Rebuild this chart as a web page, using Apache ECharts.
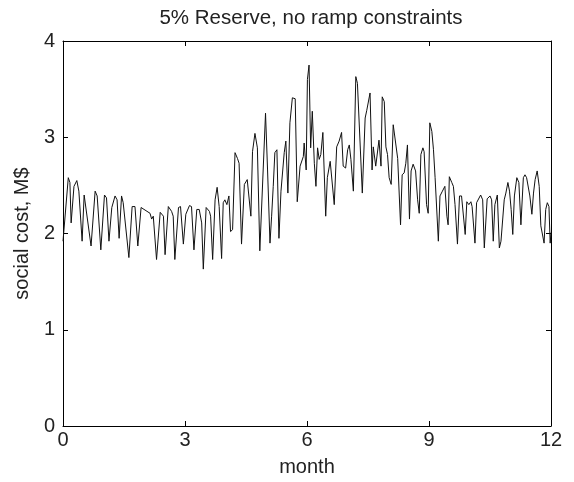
<!DOCTYPE html>
<html><head><meta charset="utf-8">
<script src="https://cdn.jsdelivr.net/npm/echarts@6/dist/echarts.min.js"></script>
<style>html,body{margin:0;padding:0;background:#fff}#c{width:574px;height:482px}</style>
</head><body><div id="c"></div>
<script>
var titleText = '5% Reserve, no ramp constraints';
var xName = 'month';
var yName = 'social cost, M$';
var xTicks = [0, 3, 6, 9, 12];
var yTicks = [0, 1, 2, 3, 4];
// month positions of the traced vertices
var months = [
0.00,0.13,0.17,0.20,0.27,0.34,0.39,0.47,0.52,0.69,0.79,0.84,0.93,1.02,1.07,1.13,1.20,1.28,1.33,1.38,
1.44,1.48,1.52,1.62,1.70,1.77,1.84,1.92,2.14,2.18,2.22,2.30,2.39,2.47,2.51,2.59,2.67,2.71,2.75,2.84,
2.89,2.96,3.02,3.11,3.16,3.22,3.29,3.35,3.41,3.45,3.52,3.60,3.63,3.68,3.74,3.79,3.84,3.90,3.94,3.98,
4.03,4.08,4.12,4.17,4.23,4.29,4.33,4.39,4.46,4.53,4.57,4.62,4.66,4.72,4.78,4.84,4.98,5.03,5.09,5.13,
5.17,5.21,5.26,5.31,5.36,5.40,5.44,5.48,5.53,5.58,5.64,5.71,5.76,5.83,5.91,5.93,5.98,6.01,6.05,6.09,
6.13,6.18,6.22,6.26,6.30,6.34,6.39,6.46,6.50,6.57,6.61,6.67,6.73,6.79,6.85,6.89,6.95,7.00,7.04,7.08,
7.14,7.20,7.24,7.36,7.43,7.47,7.55,7.60,7.63,7.69,7.77,7.82,7.85,7.90,7.94,7.98,8.02,8.07,8.12,8.18,
8.23,8.30,8.34,8.39,8.43,8.47,8.52,8.56,8.61,8.67,8.72,8.76,8.80,8.85,8.88,8.94,8.98,9.02,9.07,9.11,
9.15,9.23,9.27,9.33,9.39,9.44,9.47,9.50,9.56,9.60,9.64,9.70,9.75,9.80,9.84,9.89,9.93,9.98,10.03,10.06,
10.13,10.17,10.21,10.27,10.32,10.36,10.43,10.50,10.54,10.58,10.62,10.68,10.73,10.77,10.81,10.85,10.89,10.94,10.98,11.02,
11.06,11.10,11.16,11.21,11.26,11.32,11.36,11.40,11.44,11.48,11.53,11.57,11.61,11.66,11.71,11.75,11.79,11.83,11.87,11.91,
11.95,11.98,12.00
];
// social cost, M$
var costs = [
1.92,2.58,2.53,2.11,2.49,2.55,2.44,1.92,2.40,1.87,2.44,2.39,1.83,2.40,2.37,1.92,2.27,2.39,2.35,1.95,
2.39,2.32,2.33,1.75,2.28,2.28,1.87,2.27,2.21,2.15,2.18,1.73,2.22,2.18,1.78,2.28,2.23,2.18,1.73,2.27,
2.28,1.89,2.20,2.29,2.28,1.83,2.25,2.25,2.11,1.63,2.27,2.23,2.18,1.73,2.35,2.48,2.28,1.74,2.32,2.35,
2.30,2.39,2.02,2.04,2.84,2.78,2.73,1.89,2.51,2.56,2.54,2.18,2.85,3.04,2.89,1.82,3.25,2.66,1.90,2.18,
2.49,2.84,2.87,1.95,2.44,2.44,2.84,2.96,2.42,3.15,3.41,3.40,2.33,2.70,2.80,2.94,2.66,3.60,3.75,2.89,
3.27,2.73,2.49,2.89,2.77,2.82,3.05,2.18,2.58,2.75,2.73,2.30,2.90,2.96,3.05,2.70,2.68,2.87,2.92,2.77,
2.44,3.63,3.56,2.42,3.20,3.28,3.46,2.66,2.90,2.70,2.97,2.70,3.42,3.37,2.90,2.82,2.58,2.51,3.13,2.94,
2.78,2.09,2.61,2.63,2.73,2.92,2.15,2.65,2.72,2.65,2.35,2.21,2.82,2.89,2.85,2.30,2.21,3.15,3.06,2.87,
2.58,1.92,2.39,2.44,2.49,2.18,2.09,2.59,2.53,2.49,2.30,1.89,2.39,2.39,2.37,1.99,2.33,2.30,2.33,2.28,
1.90,2.32,2.32,2.40,2.35,1.85,2.36,2.39,2.35,1.92,2.30,2.40,1.85,1.92,1.94,2.35,2.42,2.53,2.44,2.25,
1.99,2.39,2.58,2.53,2.09,2.58,2.61,2.58,2.59,2.39,2.20,2.42,2.56,2.65,2.49,2.08,2.06,1.90,2.25,2.32,
2.28,1.90,2.01
];
var seriesData = months.map(function (m, i) { return [m, costs[i]]; });

var chart = echarts.init(document.getElementById('c'), null, {renderer: 'canvas'});
var fontFam = '"Liberation Sans", Arial, Helvetica, sans-serif';
function axisBase() {
  return {
    type: 'value',
    axisLine: {show: true, onZero: false, lineStyle: {color: '#000', width: 1}},
    axisTick: {show: true, inside: true, length: 5, lineStyle: {color: '#000', width: 1}},
    splitLine: {show: false}
  };
}
chart.setOption({
  animation: false,
  backgroundColor: '#fff',
  title: {
    text: titleText, left: 306, top: 3, textAlign: 'center',
    textStyle: {fontFamily: fontFam, fontSize: 20.5, fontWeight: 'normal', color: '#222'}
  },
  grid: {left: 63, right: 23, top: 41, bottom: 55, containLabel: false},
  xAxis: [
    Object.assign(axisBase(), {
      min: xTicks[0], max: xTicks[xTicks.length - 1], interval: 3, position: 'bottom',
      name: xName, nameLocation: 'middle', nameGap: 31,
      nameTextStyle: {fontFamily: fontFam, fontSize: 20, color: '#222'},
      axisLabel: {margin: 4, fontFamily: fontFam, fontSize: 20, color: '#222'}
    }),
    Object.assign(axisBase(), {
      min: xTicks[0], max: xTicks[xTicks.length - 1], interval: 3, position: 'top',
      axisLabel: {show: false}
    })
  ],
  yAxis: [
    Object.assign(axisBase(), {
      min: yTicks[0], max: yTicks[yTicks.length - 1], interval: 1, position: 'left',
      name: yName, nameLocation: 'middle', nameGap: 30,
      nameTextStyle: {fontFamily: fontFam, fontSize: 20, color: '#222'},
      axisLabel: {margin: 8, fontFamily: fontFam, fontSize: 20, color: '#222'}
    }),
    Object.assign(axisBase(), {
      min: yTicks[0], max: yTicks[yTicks.length - 1], interval: 1, position: 'right',
      axisLabel: {show: false}
    })
  ],
  series: [{
    type: 'line', xAxisIndex: 0, yAxisIndex: 0,
    data: seriesData, showSymbol: false, symbol: 'none',
    lineStyle: {color: '#111', width: 1}
  }]
});
</script></body></html>
